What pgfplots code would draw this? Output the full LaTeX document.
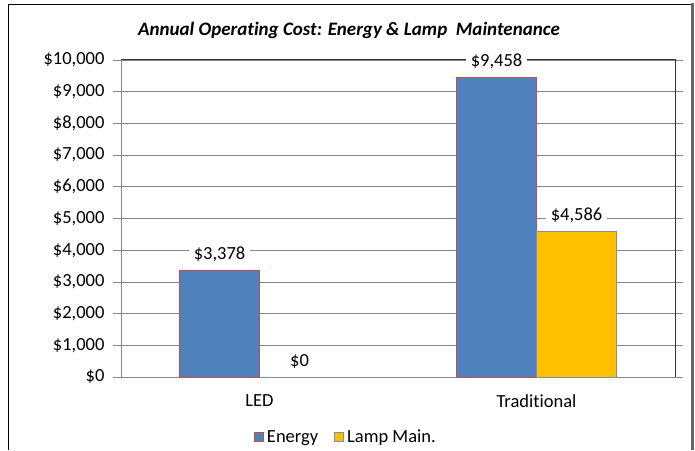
\documentclass[border=0pt]{standalone}
\usepackage{pgfplots}
\pgfplotsset{compat=1.18}
\usepackage{fontspec}
\setmainfont[Ligatures=NoCommon]{Carlito}
\definecolor{energy}{HTML}{4F81BD}
\definecolor{energyedge}{HTML}{C0504D}
\definecolor{lamp}{HTML}{FFC000}
\definecolor{lampedge}{HTML}{7F8FA9}
\definecolor{gridc}{HTML}{878787}
\newcommand{\fs}{\fontsize{18.5}{21}\selectfont}
\begin{document}
\begin{tikzpicture}[x=1pt,y=1pt]
\path[use as bounding box] (0,0) rectangle (695,450);
\draw[black, line width=1.5pt] (8.5,0) -- (8.5,445.5) -- (692,445.5);
\draw[black!60, line width=2.5pt] (692.5,446.5) -- (692.5,0);
\node[font=\fontsize{19}{22}\selectfont\bfseries\itshape] at (349,420) {Annual Operating Cost: Energy \& Lamp\ \ Maintenance};
\begin{axis}[
  at={(121pt,73pt)}, anchor=south west,
  width=554pt, height=317pt, scale only axis,
  ybar=0pt, bar width=80pt,
  xmin=-0.5, xmax=1.5, ymin=0, ymax=10000,
  xtick={0,1}, xticklabels={LED,Traditional},
  minor xtick={-0.5,0.5,1.5},
  ytick={0,1000,...,10000},
  scaled y ticks=false,
  tick align=outside,
  major tick length=8pt, minor tick length=6pt,
  xtick style={draw=none},
  minor tick style={gridc, line width=0.8pt},
  ytick style={gridc, line width=0.8pt},
  axis line style={gridc, line width=0.8pt},
  ymajorgrids, grid style={gridc, line width=0.8pt},
  clip=false,
  /pgf/number format/.cd, fixed, precision=0, 1000 sep={,}, assume math mode=true,
  /pgfplots/.cd,
  yticklabel={\$\pgfmathprintnumber{\tick}},
  tick label style={font=\fs},
  yticklabel style={xshift=-5pt},
  xticklabel style={yshift=-6pt},
  nodes near coords={\$\pgfmathprintnumber{\pgfplotspointmeta}},
  every node near coord/.append style={font=\fs, fill=white, inner xsep=5pt, inner ysep=3pt, yshift=5pt, text=black},
  legend style={at={(0.406,-0.189)}, anchor=center, draw=none, legend columns=2, font=\fs,
    /tikz/every odd column/.append style={column sep=1pt},
    /tikz/every even column/.append style={column sep=14pt}},
]
\draw[black!80, line width=1pt] (rel axis cs:0,1) -- (rel axis cs:1,1) -- (rel axis cs:1,0);
\addplot[fill=energy, draw=energyedge, line width=0.7pt,
  legend image code/.code={\draw[fill=energy, draw=energyedge, line width=0.9pt] (0pt,-4.5pt) rectangle (9pt,4.5pt);}]
  coordinates {(0,3378) (1,9458)};
\addplot[fill=lamp, draw=lampedge, line width=0.7pt,
  legend image code/.code={\draw[fill=lamp, draw=lampedge, line width=0.9pt] (0pt,-4.5pt) rectangle (9pt,4.5pt);}]
  coordinates {(0,0) (1,4586)};
\legend{Energy, Lamp Main.}
\end{axis}
\end{tikzpicture}
\end{document}
